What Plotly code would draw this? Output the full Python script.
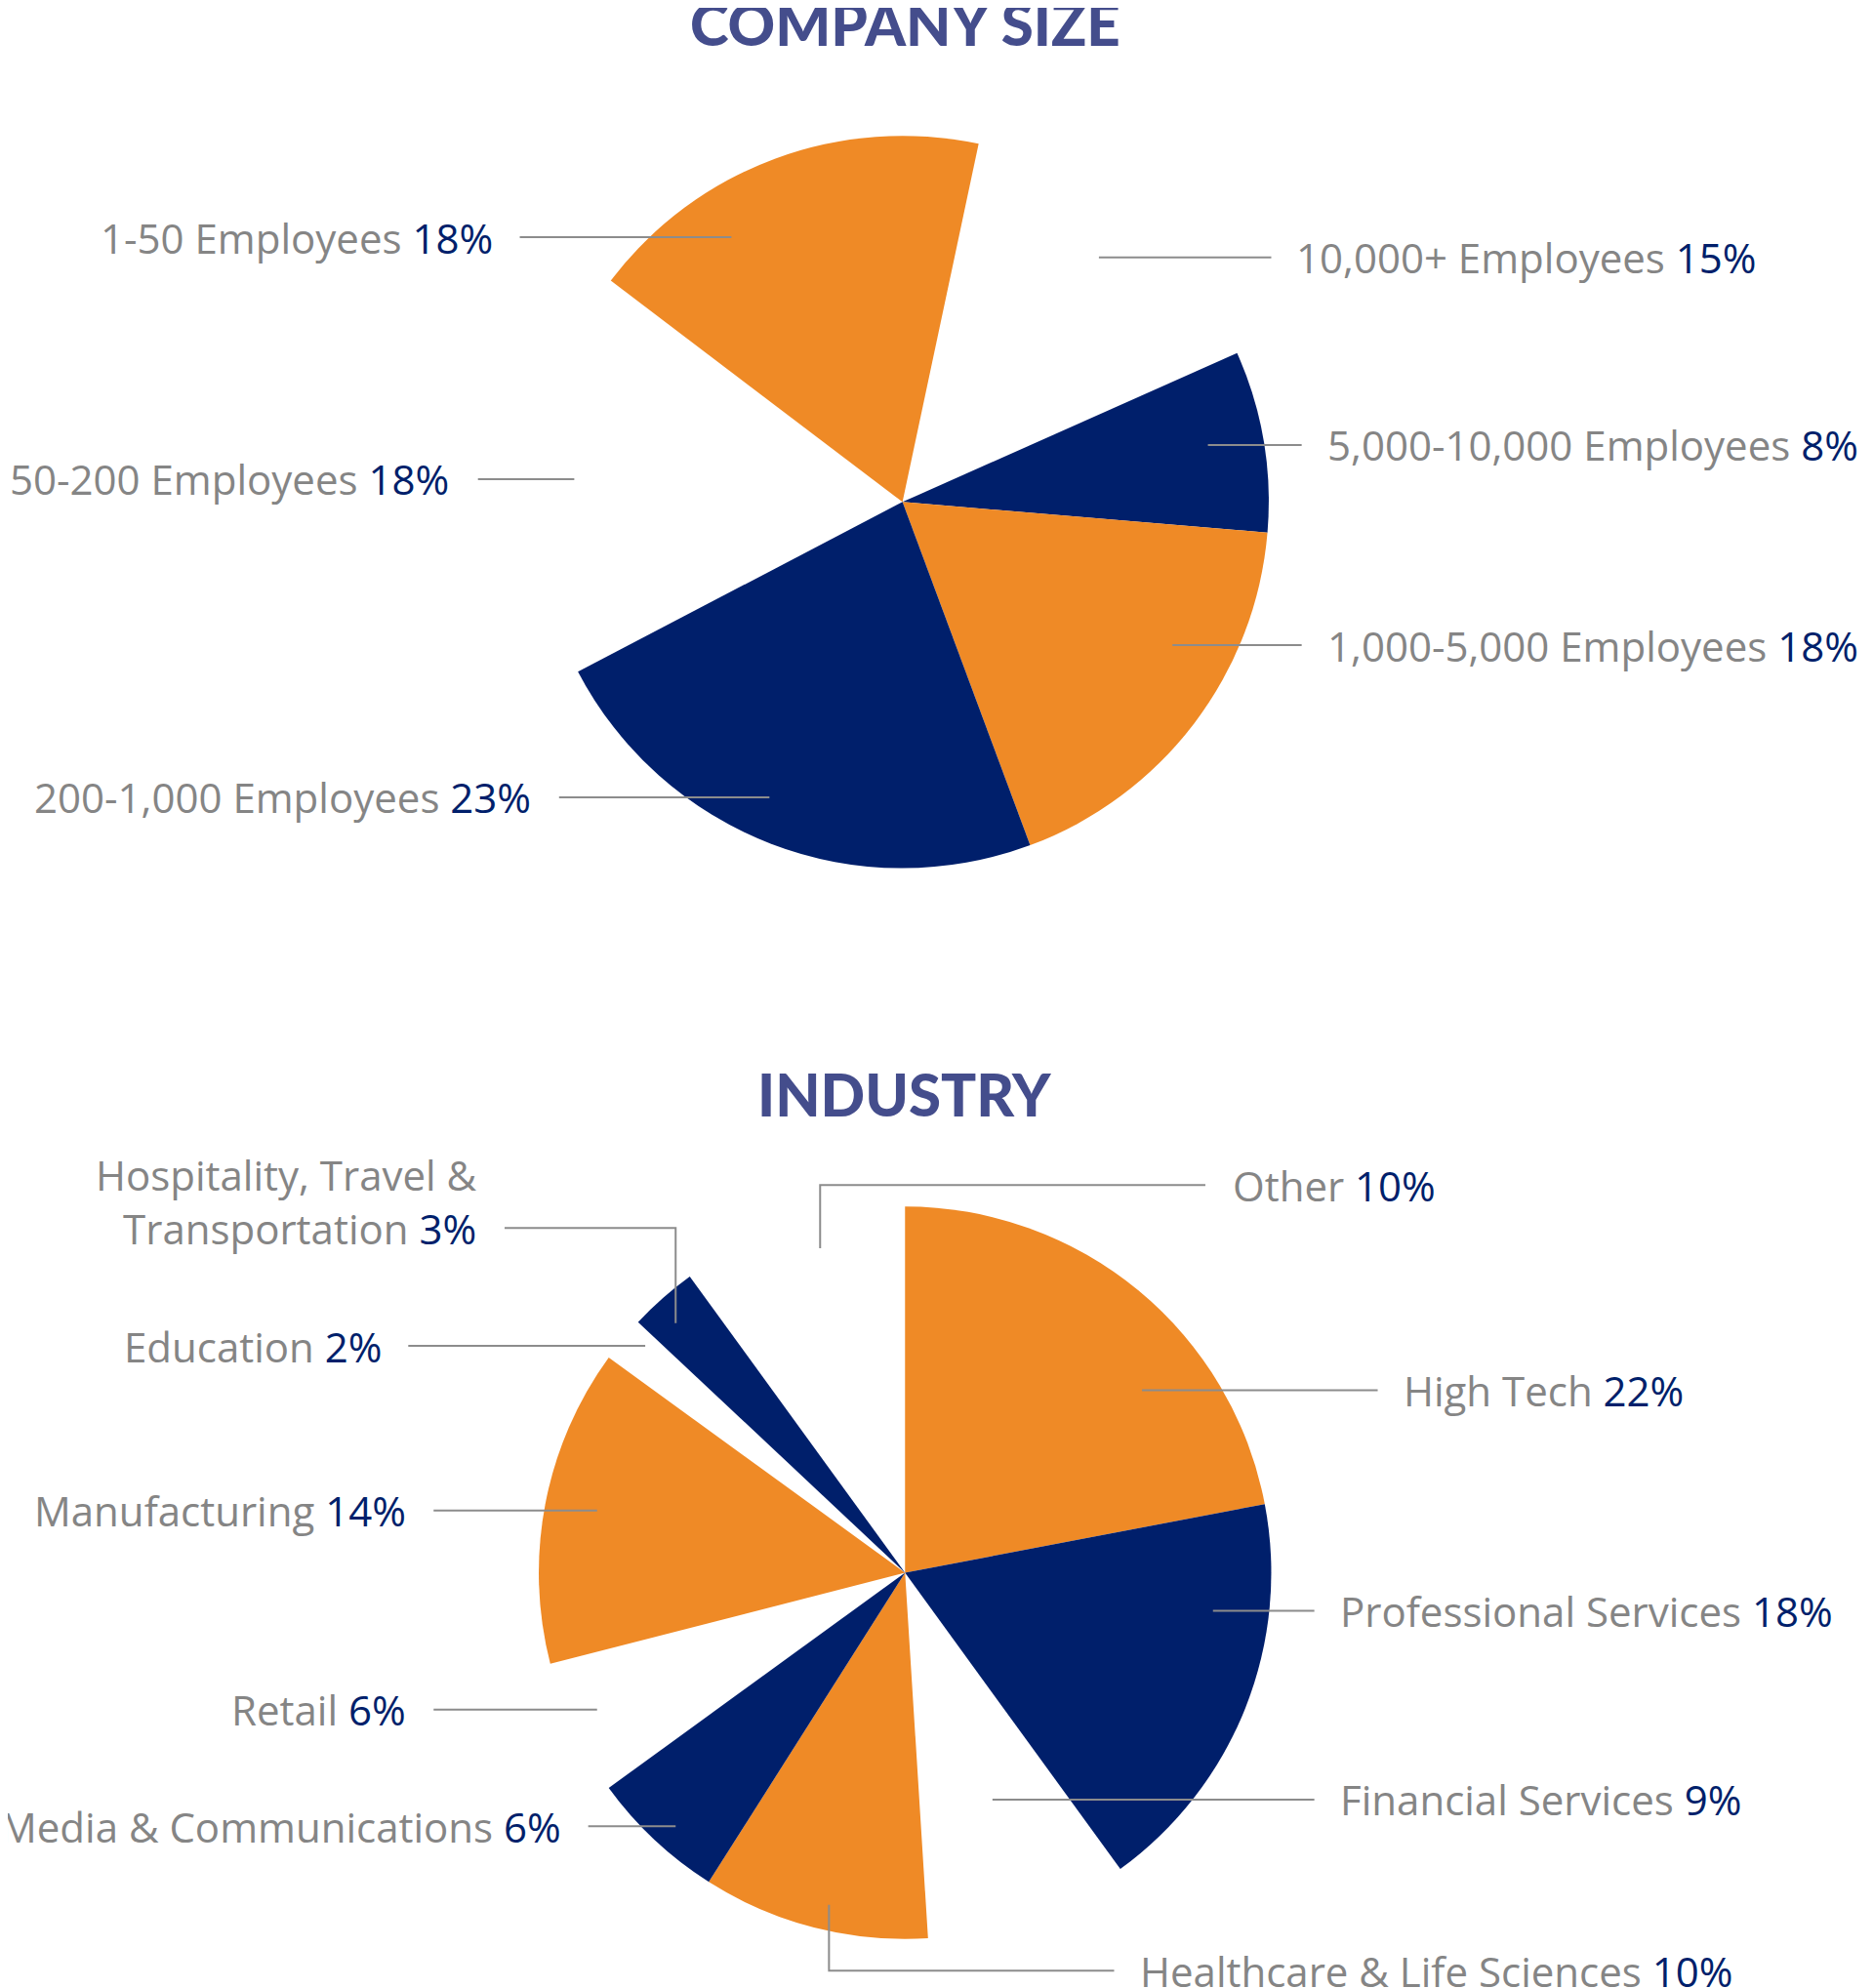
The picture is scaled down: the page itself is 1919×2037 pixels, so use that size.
import plotly.graph_objects as go

W, H = 1919, 2037
S = 1919 / 1478.0  # reference was measured on a 1478 px wide view

NAVY = "#001f6b"
ORANGE = "#ef8a26"
GRAY = "#858585"
NONE = "rgba(0,0,0,0)"

size_labels = ["10,000+ Employees", "5,000-10,000 Employees", "1,000-5,000 Employees",
               "200-1,000 Employees", "50-200 Employees", "1-50 Employees"]
size_values = [15, 8, 18, 23, 18, 18]
size_colors = [NONE, NAVY, ORANGE, NAVY, NONE, ORANGE]

ind_labels = ["High Tech", "Professional Services", "Financial Services",
              "Healthcare & Life Sciences", "Media & Communications", "Retail",
              "Manufacturing", "Education", "Hospitality, Travel &<br>Transportation", "Other"]
ind_values = [22, 18, 9, 10, 6, 6, 14, 2, 3, 10]
ind_colors = [ORANGE, NAVY, NONE, ORANGE, NAVY, NONE, ORANGE, NONE, NAVY, NONE]

DX, DY = -6, -6  # correction measured from the first render


def px(x):
    return (x + DX) * S / W


def py(y):
    return 1 - (y + DY) * S / H


def domain(cx, cy, r):
    return dict(x=[px(cx - r), px(cx + r)], y=[py(cy + r), py(cy - r)])


fig = go.Figure()
fig.add_trace(go.Pie(labels=size_labels, values=size_values, sort=False, direction="clockwise",
                     rotation=12, marker=dict(colors=size_colors, line=dict(width=0)),
                     textinfo="none", hoverinfo="label+percent", showlegend=False,
                     domain=domain(712, 396, 289)))
fig.add_trace(go.Pie(labels=ind_labels, values=ind_values, sort=False, direction="clockwise",
                     rotation=0, marker=dict(colors=ind_colors, line=dict(width=0)),
                     textinfo="none", hoverinfo="label+percent", showlegend=False,
                     domain=domain(714, 1241, 289)))

# (label, value, text x, y, anchor, line points)
callouts = [
    (size_labels[5], 18, 390, 187, "right", [(410, 187), (577, 187)]),
    (size_labels[0], 15, 1021, 203, "left", [(867, 203), (1003, 203)]),
    (size_labels[1], 8, 1046, 351, "left", [(953, 351), (1027, 351)]),
    (size_labels[2], 18, 1046, 509, "left", [(925, 509), (1027, 509)]),
    (size_labels[3], 23, 420, 629, "right", [(441, 629), (607, 629)]),
    (size_labels[4], 18, 356, 378, "right", [(377, 378), (453, 378)]),
    (ind_labels[9], 10, 971, 935, "left", [(647, 985), (647, 935), (951, 935)]),
    (ind_labels[0], 22, 1106, 1097, "left", [(901, 1097), (1087, 1097)]),
    (ind_labels[1], 18, 1056, 1271, "left", [(957, 1271), (1037, 1271)]),
    (ind_labels[2], 9, 1056, 1420, "left", [(783, 1420), (1037, 1420)]),
    (ind_labels[3], 10, 898, 1555, "left", [(654, 1503), (654, 1555), (879, 1555)]),
    (ind_labels[4], 6, 444, 1441, "right", [(464, 1441), (533, 1441)]),
    (ind_labels[5], 6, 322, 1349, "right", [(342, 1349), (471, 1349)]),
    (ind_labels[6], 14, 322, 1192, "right", [(342, 1192), (471, 1192)]),
    (ind_labels[7], 2, 303, 1062, "right", [(322, 1062), (509, 1062)]),
    (ind_labels[8], 3, 378, 948, "right", [(398, 969), (533, 969), (533, 1044)]),
]

for lab, val, tx, ty, anchor, pts in callouts:
    fig.add_annotation(x=px(tx), y=py(ty), xref="paper", yref="paper",
                       text=f"{lab} <span style='color:{NAVY}'>{val}%</span>",
                       showarrow=False, xanchor=anchor, yanchor="middle", align=anchor,
                       font=dict(family="Open Sans", size=42, color=GRAY))
    path = "M " + " L ".join(f"{px(x)},{py(y)}" for x, y in pts)
    fig.add_shape(type="path", path=path, xref="paper", yref="paper",
                  line=dict(color="#8c8c8c", width=2))

for title, ty in [("COMPANY SIZE", 18), ("INDUSTRY", 863)]:
    fig.add_annotation(x=px(714), y=py(ty), xref="paper", yref="paper", text=title,
                       showarrow=False, xanchor="center", yanchor="middle",
                       font=dict(family="Lato", size=60, color="#444d8c", weight=900))

fig.update_layout(width=W, height=H, margin=dict(l=0, r=0, t=0, b=0),
                  paper_bgcolor="white", plot_bgcolor="white")
fig.write_html("out.html")
